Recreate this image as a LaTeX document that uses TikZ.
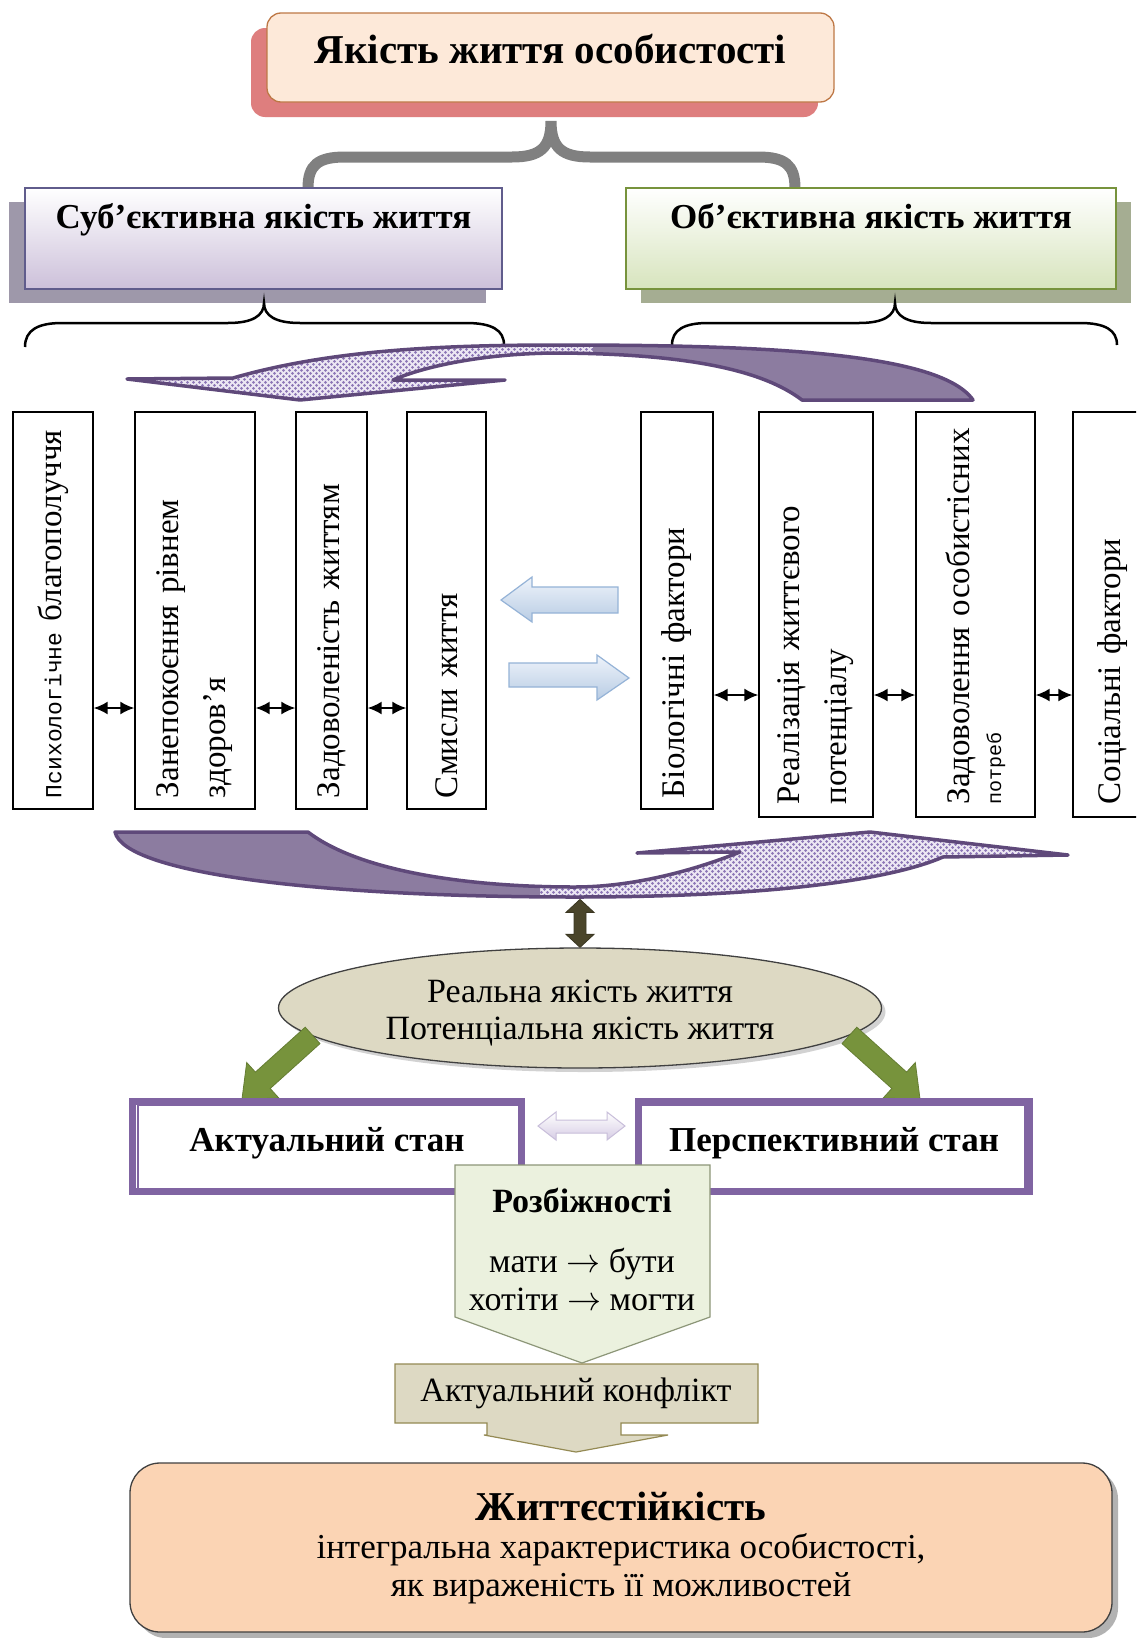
\RequirePackage{fix-cm}
\documentclass[tikz,border=0pt]{standalone}
\usepackage{fontspec}
\setmainfont{Liberation Serif}
\newfontfamily\monofont{Liberation Mono}
\usetikzlibrary{shapes.geometric, arrows.meta, calc, patterns, shadows}

\definecolor{qolfill}{RGB}{253,233,217}
\definecolor{qolline}{RGB}{190,120,70}
\definecolor{qolshadow}{RGB}{222,126,126}
\definecolor{subjline}{RGB}{96,92,140}
\definecolor{subjfill}{RGB}{204,192,218}
\definecolor{subjshadow}{RGB}{158,152,170}
\definecolor{objline}{RGB}{119,147,60}
\definecolor{objfill}{RGB}{215,228,189}
\definecolor{objshadow}{RGB}{165,173,146}
\definecolor{bracegray}{RGB}{128,128,128}
\definecolor{arcline}{RGB}{95,73,122}
\definecolor{arcfill}{RGB}{140,124,160}
\definecolor{arcdot}{RGB}{140,118,182}
\definecolor{arclight}{RGB}{236,231,243}
\definecolor{blueline}{RGB}{149,179,215}
\definecolor{bluetop}{RGB}{238,243,250}
\definecolor{bluebot}{RGB}{184,204,228}
\definecolor{darkolive}{RGB}{74,69,42}
\definecolor{realfill}{RGB}{221,217,195}
\definecolor{greenarr}{RGB}{119,147,60}
\definecolor{stateline}{RGB}{128,100,162}
\definecolor{lavline}{RGB}{200,190,218}
\definecolor{lavbot}{RGB}{214,204,228}
\definecolor{divfill}{RGB}{235,241,222}
\definecolor{divline}{RGB}{140,150,120}
\definecolor{conffill}{RGB}{221,217,195}
\definecolor{confline}{RGB}{148,138,84}
\definecolor{hardfill}{RGB}{251,212,180}

\pgfdeclarepatternformonly{arcdots}{\pgfpoint{-1pt}{-1pt}}{\pgfpoint{7pt}{7pt}}{\pgfpoint{6pt}{6pt}}{%
  \pgfpathcircle{\pgfpoint{1.5pt}{1.5pt}}{1.5pt}%
  \pgfpathcircle{\pgfpoint{4.5pt}{4.5pt}}{1.5pt}%
  \pgfusepath{fill}}

\newcommand{\tallfont}{\fontsize{33}{47}\selectfont}
\newcommand{\monotxt}[2]{{\monofont\fontsize{#1}{#1}\selectfont #2}}

\begin{document}
\begin{tikzpicture}[x=1pt, y=-1pt,
  vbox/.style={draw, line width=1.3pt, rotate=90, align=left, font=\tallfont,
    inner ysep=0pt, inner xsep=11pt, text width=375pt},
  vboxr/.style={vbox, inner xsep=12.5pt, text width=380pt},
  headbox/.style={draw=#1line, line width=1.3pt, top color=white, bottom color=#1fill,
    minimum height=101pt, text depth=46pt, font=\fontsize{35}{38}\selectfont\bfseries},
  gbrace/.style={draw=bracegray, line width=11pt, line cap=round},
  bbrace/.style={draw=black, line width=2.5pt},
  tworow/.style={{Latex[length=14pt,width=13pt]}-{Latex[length=14pt,width=13pt]}, line width=2pt},
  blarrow/.style={draw=blueline, line width=1.2pt, top color=bluetop, bottom color=bluebot},
  garrow/.style={fill=greenarr, draw=greenarr!85!black, line width=0.8pt},
  stbox/.style={draw=stateline, line width=7pt, fill=white, minimum width=389pt,
    minimum height=90pt, text depth=14pt, font=\fontsize{35}{38}\selectfont\bfseries},
  stinner/.style={draw=stateline, line width=2pt},
  txt/.style={font=\fontsize{34}{38}\selectfont}
]
\fill[white] (0,0) rectangle (1136,1638);
\useasboundingbox (0,0) rectangle (1136,1638);
\clip (0,0) rectangle (1136,1638);

% top level
\node[draw=qolline, line width=1.3pt, fill=qolfill, rounded corners=14pt,
  minimum width=567pt, minimum height=89pt, text depth=17pt, font=\fontsize{41}{44}\selectfont\bfseries,
  general shadow={fill=qolshadow, shadow xshift=-16pt, shadow yshift=-15pt}]
  (qol) at (550.5,57.5) {Якість життя особистості};

\draw[gbrace] (308,188) .. controls (308,165) and (318,157) .. (345,157) -- (512,157)
  .. controls (540,157) and (551,148) .. (551,121) .. controls (551,148) and (562,157) .. (590,157)
  -- (758,157) .. controls (785,157) and (795,165) .. (795,188);

\node[headbox=subj, minimum width=477pt,
  general shadow={fill=subjshadow, shadow xshift=-16pt, shadow yshift=-14pt}]
  (subj) at (263.5,238.5) {Суб’єктивна якість життя};
\node[headbox=obj, minimum width=490pt,
  general shadow={fill=objshadow, shadow xshift=15pt, shadow yshift=-14pt}]
  (obj) at (871,238.5) {Об’єктивна якість життя};

\draw[bbrace] (25,347) .. controls (25,330) and (38,323) .. (62,323) -- (228,323)
  .. controls (252,323) and (264,316) .. (264,303) .. controls (264,316) and (276,323) .. (300,323)
  -- (466,323) .. controls (492,323) and (504,330) .. (504,345);
\draw[bbrace] (672,345) .. controls (672,330) and (684,323) .. (708,323) -- (859,323)
  .. controls (883,323) and (895,316) .. (895,303) .. controls (895,316) and (907,323) .. (931,323)
  -- (1080,323) .. controls (1105,323) and (1117,330) .. (1117,345);

% upper curved arrow
\path[save path=\upperarc] (127,379) -- (233,378) .. controls (330,350) and (440,345) .. (560,345)
  .. controls (760,345) and (940,352) .. (973,400) -- (802,400)
  .. controls (760,368) and (680,354) .. (560,353) .. controls (480,353) and (420,368) .. (393,380)
  -- (505,380) -- (300,400) -- cycle;
\fill[arclight, use path=\upperarc];
\fill[pattern=arcdots, pattern color=arcdot, use path=\upperarc];
\begin{scope}
  \clip (593,300) rectangle (1000,420);
  \fill[arcfill, use path=\upperarc];
\end{scope}
\draw[arcline, line width=3.5pt, line join=round, use path=\upperarc];

% factor boxes
\node[vbox, minimum height=80pt] (psy) at (53,610.5) {\monotxt{23}{Психологічне} благополуччя};
\node[vbox, minimum height=120pt] (worry) at (195,610.5) {Занепокоєння рівнем\\здоров’я};
\node[vbox, minimum height=71pt] (satis) at (331.5,610.5) {Задоволеність життям};
\node[vbox, minimum height=79pt] (sense) at (446.5,610.5) {Смисли життя};

\node[vbox, minimum height=72pt] (bio) at (677,610.5) {Біологічні фактори};
\node[vboxr, minimum height=114pt] (potent) at (816,614.5) {Реалізація життєвого\\потенціалу};
\node[vboxr, minimum height=119pt] (needs) at (975.5,614.5) {Задоволення особистісних\\[-15pt]\monotxt{20}{потреб}};
\node[vboxr, minimum height=80pt] (soc) at (1113,614.5) {Соціальні фактори};

\coordinate (lrow) at (0,708);
\coordinate (rrow) at (0,695);
\foreach \a/\b in {psy/worry, worry/satis, satis/sense}
  \draw[tworow] (\a.south |- lrow) -- (\b.north |- lrow);
\foreach \a/\b in {bio/potent, potent/needs, needs/soc}
  \draw[tworow] (\a.south |- rrow) -- (\b.north |- rrow);

\draw[blarrow] (618,587) -- (532,587) -- (532,577) -- (501,600) -- (532,622) -- (532,613) -- (618,613) -- cycle;
\draw[blarrow] (509,663) -- (597,663) -- (597,655) -- (629,678) -- (597,700) -- (597,687) -- (509,687) -- cycle;

% lower curved arrow
\path[save path=\lowerarc] (1068,855) -- (870,832) -- (637,853) -- (740,852)
  .. controls (690,872) and (630,887) .. (575,887) .. controls (470,887) and (360,872) .. (308,832)
  -- (115,832) .. controls (125,875) and (330,897) .. (575,897)
  .. controls (770,897) and (890,880) .. (943,857) -- cycle;
\fill[arclight, use path=\lowerarc];
\fill[pattern=arcdots, pattern color=arcdot, use path=\lowerarc];
\begin{scope}
  \clip (100,820) rectangle (540,910);
  \fill[arcfill, use path=\lowerarc];
\end{scope}
\draw[arcline, line width=3.5pt, line join=round, use path=\lowerarc];

% real / potential quality
\node[ellipse, draw=black!75, line width=1.3pt, fill=realfill, minimum width=603pt,
  minimum height=120pt, inner sep=0pt,
  drop shadow={shadow xshift=4pt, shadow yshift=-4pt, opacity=0.35}]
  (real) at (580,1008) {};
\node[align=center, font=\fontsize{34}{37}\selectfont] (realtxt) at (580,1013)
  {Реальна якість життя\\Потенціальна якість життя};

\draw[fill=darkolive, draw=darkolive!80!black, line width=0.8pt] (real.north) -- ++(14,-13) -- ++(-8,0)
  -- ++(0,-22) -- ++(8,0) -- ++(-14,-13) -- ++(-14,13) -- ++(8,0) -- ++(0,22) -- ++(-8,0) -- cycle;

\draw[garrow] (242,1099) -- (278.9,1098.1) -- (270.2,1088.5) -- (320,1043.6) -- (305.2,1027.2)
  -- (255.4,1072.1) -- (246.7,1062.5) -- cycle;
\draw[garrow] (920,1099) -- (883.1,1098.1) -- (891.8,1088.5) -- (842,1043.6) -- (856.8,1027.2)
  -- (906.6,1072.1) -- (915.3,1062.5) -- cycle;

% states
\node[stbox] (act) at (327,1146.5) {Актуальний стан};
\node[stbox, minimum width=391pt] (persp) at (834,1146.5) {Перспективний стан};
\draw[stinner] ([shift={(8.5,6.5)}]act.north west) rectangle ([shift={(-5.5,-3.5)}]act.south east);
\draw[stinner] ([shift={(5.5,6.5)}]persp.north west) rectangle ([shift={(-8.5,-3.5)}]persp.south east);

\draw[draw=lavline, line width=1pt, top color=white, bottom color=lavbot] (538,1126) -- (556,1112)
  -- (556,1120) -- (607,1120) -- (607,1112) -- (625,1126) -- (607,1140) -- (607,1133)
  -- (556,1133) -- (556,1140) -- cycle;

% divergences
\draw[fill=divfill, draw=divline, line width=1.2pt] (455,1165) -- (710,1165) -- (710,1317)
  -- (582,1363) -- (455,1317) -- cycle;
\node[font=\fontsize{34}{36}\selectfont\bfseries] (divhead) at (582,1200) {Розбіжності};
\node[txt, align=center] (divpair) at (582,1279) {мати $\rightarrow$ бути\\хотіти $\rightarrow$ могти};

\draw[fill=conffill, draw=confline, line width=1.2pt] (395,1364) -- (758,1364) -- (758,1423)
  -- (621,1423) -- (621,1435) -- (668,1435) -- (576,1452) -- (484,1435) -- (487,1435)
  -- (487,1423) -- (395,1423) -- cycle;
\node[txt] (conf) at (576,1393) {Актуальний конфлікт};

% resilience
\node[draw=black!75, line width=1.3pt, fill=hardfill, rounded corners=30pt,
  minimum width=982pt, minimum height=169pt, align=center, font=\fontsize{35}{38}\selectfont,
  general shadow={fill=black!30, shadow xshift=6pt, shadow yshift=-6pt}]
  (hardi) at (621,1547.5) {{\fontsize{41}{44}\selectfont\bfseries Життєстійкість}\\
  інтегральна характеристика особистості,\\як вираженість її можливостей};
\end{tikzpicture}
\end{document}
